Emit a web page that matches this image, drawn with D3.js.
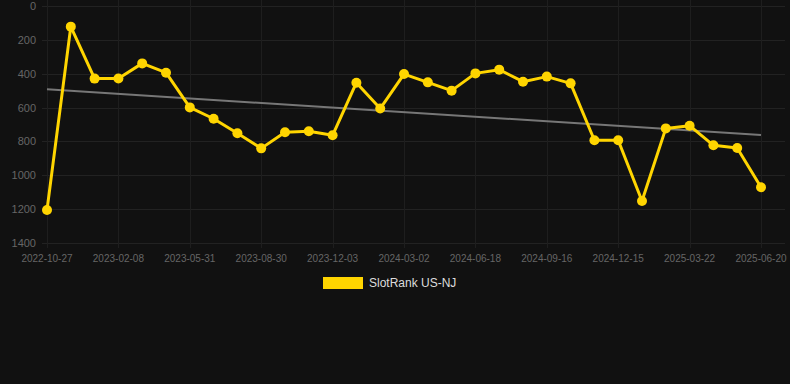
<!DOCTYPE html>
<html>
<head>
<meta charset="utf-8">
<script src="https://cdn.jsdelivr.net/npm/d3@7"></script>
<style>
  html, body { margin: 0; padding: 0; background: #111111; }
  svg { display: block; }
</style>
</head>
<body>
<svg id="chart" width="790" height="384"></svg>
<script>
const dates = [
  "2022-10-27","2022-12-01","2023-01-04","2023-02-08","2023-03-15","2023-04-26",
  "2023-05-31","2023-07-01","2023-08-01","2023-08-30","2023-10-02","2023-11-01",
  "2023-12-03","2024-01-03","2024-02-01","2024-03-02","2024-04-08","2024-05-13",
  "2024-06-18","2024-07-19","2024-08-17","2024-09-16","2024-10-16","2024-11-15",
  "2024-12-15","2025-01-20","2025-02-20","2025-03-22","2025-04-21","2025-05-21",
  "2025-06-20"
];
const ranks = [
  1205, 122, 429, 428, 339, 394, 599, 666, 752, 841, 746, 740, 764, 453, 606, 402,
  451, 500, 398, 376, 447, 417, 457, 793, 793, 1152, 723, 707, 823, 839, 1071
];
const yTicks = [0, 200, 400, 600, 800, 1000, 1200, 1400];
const seriesName = "SlotRank US-NJ";

(function () {
const svg = d3.select("#chart");
const pLeft = 47, pRight = 761, pTop = 6, pBottom = 243;

const x = d3.scalePoint().domain(dates).range([pLeft, pRight]);
const y = d3.scaleLinear().domain([0, 1400]).range([pTop, pBottom]);

const xTickDates = dates.filter((d, i) => i % 3 === 0);

// horizontal grid
svg.append("g").selectAll("line").data(yTicks).join("line")
  .attr("x1", pLeft - 5).attr("x2", 785)
  .attr("y1", d => Math.round(y(d)) + 0.5).attr("y2", d => Math.round(y(d)) + 0.5)
  .attr("stroke", "#222222").attr("stroke-width", 1);

// vertical grid
svg.append("g").selectAll("line").data(xTickDates).join("line")
  .attr("x1", d => Math.round(x(d)) + 0.5).attr("x2", d => Math.round(x(d)) + 0.5)
  .attr("y1", 0).attr("y2", pBottom + 5)
  .attr("stroke", "#1e1e1e").attr("stroke-width", 1);

// y labels
svg.append("g").selectAll("text").data(yTicks).join("text")
  .attr("x", 36).attr("y", d => y(d))
  .attr("text-anchor", "end").attr("dominant-baseline", "central")
  .attr("font-family", "Liberation Sans, Arial, sans-serif")
  .attr("font-size", 11).attr("fill", "#666666")
  .text(d => d);

// x labels
svg.append("g").selectAll("text").data(xTickDates).join("text")
  .attr("x", d => x(d)).attr("y", 258)
  .attr("text-anchor", "middle").attr("dominant-baseline", "central")
  .attr("font-family", "Liberation Sans, Arial, sans-serif")
  .attr("font-size", 10).attr("fill", "#666666")
  .text(d => d);

// trend line (least squares)
const n = ranks.length;
const idx = d3.range(n);
const mx = d3.mean(idx), my = d3.mean(ranks);
const slope = d3.sum(idx, i => (i - mx) * (ranks[i] - my)) / d3.sum(idx, i => (i - mx) ** 2);
const icpt = my - slope * mx;
svg.append("line")
  .attr("x1", x(dates[0])).attr("y1", y(icpt))
  .attr("x2", x(dates[n - 1])).attr("y2", y(icpt + slope * (n - 1)))
  .attr("stroke", "#777777").attr("stroke-width", 2);

// series line
const line = d3.line().x((d, i) => x(dates[i])).y(d => y(d));
svg.append("path").datum(ranks)
  .attr("d", line).attr("fill", "none")
  .attr("stroke", "#FFD500").attr("stroke-width", 3)
  .attr("stroke-linejoin", "round");

svg.append("g").selectAll("circle").data(ranks).join("circle")
  .attr("cx", (d, i) => x(dates[i])).attr("cy", d => y(d))
  .attr("r", 5).attr("fill", "#FFD500");

// legend
svg.append("rect").attr("x", 323).attr("y", 277).attr("width", 40).attr("height", 12)
  .attr("fill", "#FFD500");
svg.append("text").attr("x", 369).attr("y", 283)
  .attr("dominant-baseline", "central")
  .attr("font-family", "Liberation Sans, Arial, sans-serif")
  .attr("font-size", 12).attr("fill", "#dddddd")
  .text(seriesName);
})();
</script>
</body>
</html>
